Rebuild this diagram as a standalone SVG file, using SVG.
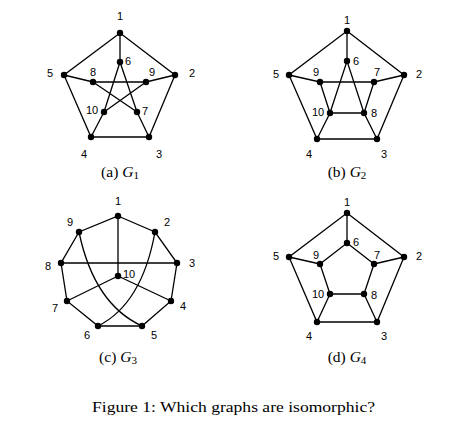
<svg xmlns="http://www.w3.org/2000/svg" width="474" height="433" viewBox="0 0 474 433">
<style>
.e{stroke:#000;stroke-width:1.3;fill:none}
.n{fill:#000}
.l{font-family:"Liberation Sans",Arial,sans-serif;font-size:11px;text-anchor:middle;fill:#000}
.c{font-family:"Liberation Serif","Times New Roman",serif;font-size:15.5px;text-anchor:middle;fill:#000}
.i{font-style:italic}
.s{font-size:11px}
</style>
<rect width="474" height="433" fill="#fff"/>
<defs><circle id="d" r="3.2"/></defs>

<!-- G1 -->
<g id="g1-edges" class="e">
<path d="M120 33L175 75L149 137L91 137L64 75Z"/>
<path d="M120 33L120 62M175 75L146 82M149 137L137 112M91 137L104 112M64 75L93 82"/>
<path d="M120 62L104 112M120 62L137 112M93 82L146 82M93 82L137 112M146 82L104 112"/>
</g>
<g id="g1-nodes" class="n">
<use href="#d" x="120" y="33"/><use href="#d" x="175" y="75"/><use href="#d" x="149" y="137"/><use href="#d" x="91" y="137"/><use href="#d" x="64" y="75"/>
<use href="#d" x="120" y="62"/><use href="#d" x="137" y="112"/><use href="#d" x="93" y="82"/><use href="#d" x="146" y="82"/><use href="#d" x="104" y="112"/>
</g>
<g id="g1-labels" class="l">
<text x="120" y="20">1</text><text x="192" y="77">2</text><text x="159" y="158">3</text><text x="84" y="158">4</text><text x="50" y="77">5</text>
<text x="128" y="65">6</text><text x="145" y="115">7</text><text x="93" y="76">8</text><text x="152" y="76">9</text><text x="92" y="114">10</text>
</g>
<text id="cap-a" class="c" x="120" y="177">(a) <tspan class="i">G</tspan><tspan class="s" dy="2">1</tspan></text>

<!-- G2 -->
<g id="g2-edges" class="e">
<path d="M347 31L404 75L377 139L317 139L289 75Z"/>
<path d="M347 31L347 61M289 75L320 82L374 82L404 75M320 82L330 113L364 113L374 82"/>
<path d="M317 139L330 113L347 61L364 113L377 139"/>
</g>
<g id="g2-nodes" class="n">
<use href="#d" x="347" y="31"/><use href="#d" x="404" y="75"/><use href="#d" x="377" y="139"/><use href="#d" x="317" y="139"/><use href="#d" x="289" y="75"/>
<use href="#d" x="347" y="61"/><use href="#d" x="374" y="82"/><use href="#d" x="364" y="113"/><use href="#d" x="320" y="82"/><use href="#d" x="330" y="113"/>
</g>
<g id="g2-labels" class="l">
<text x="347" y="24">1</text><text x="419" y="78">2</text><text x="384" y="158">3</text><text x="309" y="158">4</text><text x="276" y="78">5</text>
<text x="356" y="65">6</text><text x="377" y="76">7</text><text x="374" y="117">8</text><text x="316" y="76">9</text><text x="318" y="116">10</text>
</g>
<text id="cap-b" class="c" x="347" y="177">(b) <tspan class="i">G</tspan><tspan class="s" dy="2">2</tspan></text>

<!-- G3 -->
<g id="g3-edges" class="e">
<path d="M118 216L155 232L177 263L171 301L142 326L98 326L67 301L61 263L79 232Z"/>
<path d="M118 216L118 276M61 263L177 263M118 276L67 301M118 276L171 301"/>
<path d="M79 232Q94 304 142 326M155 232Q142 304 98 326"/>
</g>
<g id="g3-nodes" class="n">
<use href="#d" x="118" y="216"/><use href="#d" x="155" y="232"/><use href="#d" x="177" y="263"/><use href="#d" x="171" y="301"/><use href="#d" x="142" y="326"/>
<use href="#d" x="98" y="326"/><use href="#d" x="67" y="301"/><use href="#d" x="61" y="263"/><use href="#d" x="79" y="232"/><use href="#d" x="118" y="276"/>
</g>
<g id="g3-labels" class="l">
<text x="118" y="205">1</text><text x="167" y="226">2</text><text x="192" y="267">3</text><text x="183" y="310">4</text><text x="154" y="339">5</text>
<text x="87" y="339">6</text><text x="55" y="312">7</text><text x="48" y="270">8</text><text x="70" y="226">9</text><text x="129" y="278">10</text>
</g>
<text id="cap-c" class="c" x="118" y="362">(c) <tspan class="i">G</tspan><tspan class="s" dy="2">3</tspan></text>

<!-- G4 -->
<g id="g4-edges" class="e">
<path d="M347 213L404 257L377 322L317 322L289 257Z"/>
<path d="M347 243L374 264L364 294L330 294L320 264Z"/>
<path d="M347 213L347 243M404 257L374 264M377 322L364 294M317 322L330 294M289 257L320 264"/>
</g>
<g id="g4-nodes" class="n">
<use href="#d" x="347" y="213"/><use href="#d" x="404" y="257"/><use href="#d" x="377" y="322"/><use href="#d" x="317" y="322"/><use href="#d" x="289" y="257"/>
<use href="#d" x="347" y="243"/><use href="#d" x="374" y="264"/><use href="#d" x="364" y="294"/><use href="#d" x="330" y="294"/><use href="#d" x="320" y="264"/>
</g>
<g id="g4-labels" class="l">
<text x="347" y="206">1</text><text x="419" y="260">2</text><text x="384" y="340">3</text><text x="309" y="340">4</text><text x="276" y="260">5</text>
<text x="356" y="246">6</text><text x="377" y="259">7</text><text x="374" y="299">8</text><text x="316" y="259">9</text><text x="318" y="298">10</text>
</g>
<text id="cap-d" class="c" x="347" y="362">(d) <tspan class="i">G</tspan><tspan class="s" dy="2">4</tspan></text>

<text id="figcap" class="c" x="233.5" y="412" font-size="15.5" textLength="283" lengthAdjust="spacingAndGlyphs">Figure 1: Which graphs are isomorphic?</text>
</svg>
